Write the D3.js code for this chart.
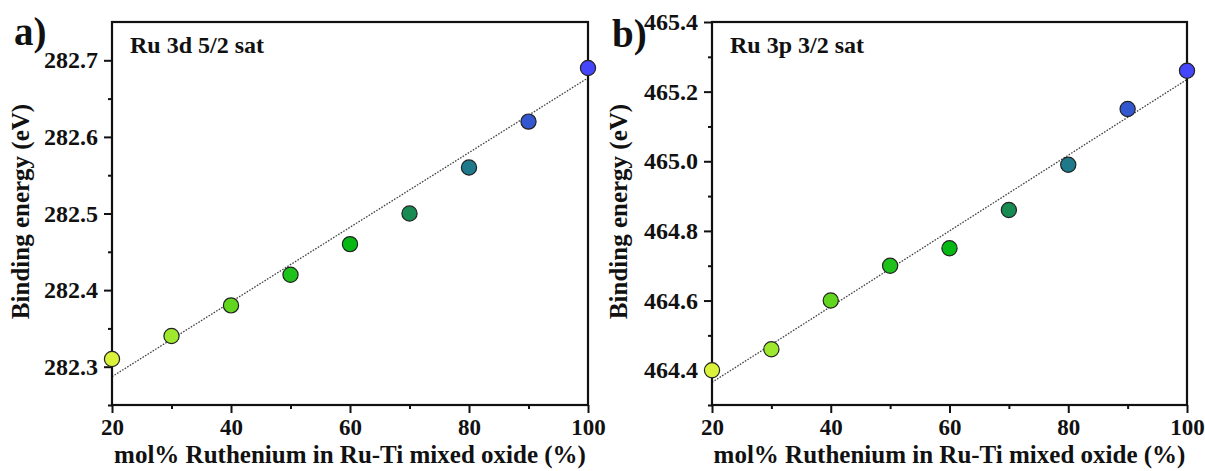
<!DOCTYPE html>
<html>
<head>
<meta charset="utf-8">
<script src="https://cdn.jsdelivr.net/npm/d3@7"></script>
<style>
  body { margin: 0; background: #fff; }
  svg { display: block; }
  text { font-family: "Liberation Serif", "Times New Roman", serif; font-weight: bold; fill: #111; }
</style>
</head>
<body>
<svg id="chart" width="1205" height="471"></svg>
<script>
// mol% Ru in the Ru-Ti mixed oxide
const molPercent = [20, 30, 40, 50, 60, 70, 80, 90, 100];

// binding energies (eV)
const ru3dSat = [282.31, 282.34, 282.38, 282.42, 282.46, 282.50, 282.56, 282.62, 282.69];
const ru3pSat = [464.40, 464.46, 464.60, 464.70, 464.75, 464.86, 464.99, 465.15, 465.26];

// dotted linear fit, value at x = 20 and x = 100
const fitRu3d = [282.287, 282.677];
const fitRu3p = [464.365, 465.235];

// one colour per composition, yellow -> green -> blue
const pointColors = ['#dbf23a', '#9ee82e', '#62d51e', '#1fc21a', '#06b814', '#178b52', '#1e798a', '#3357cf', '#4545fb'];

const xTicks = [20, 40, 60, 80, 100];
const yTicksA = [282.3, 282.4, 282.5, 282.6, 282.7];
const yTicksB = [464.4, 464.6, 464.8, 465.0, 465.2, 465.4];

const svg = d3.select('#chart');

// draws one Origin-style panel
function drawPanel(opts) {
  const { left, top, width, height, yDomain, yTicks, yMinor, yFormat, values, fit, tag, title } = opts;

  const g = svg.append('g').attr('transform', `translate(${left},${top})`);

  const x = d3.scaleLinear().domain([20, 100]).range([0, width]);
  const y = d3.scaleLinear().domain(yDomain).range([height, 0]);

  // fit line
  g.append('line')
    .attr('x1', x(20)).attr('y1', y(fit[0]))
    .attr('x2', x(100)).attr('y2', y(fit[1]))
    .attr('stroke', '#444')
    .attr('stroke-width', 1.3)
    .attr('stroke-dasharray', '1.6,1.4');

  // minor ticks first so majors draw over
  g.append('g')
    .attr('transform', `translate(0,${height})`)
    .call(d3.axisBottom(x).tickValues([30, 50, 70, 90]).tickSize(4).tickFormat(''))
    .call((a) => a.select('.domain').remove());
  g.append('g')
    .call(d3.axisLeft(y).tickValues(yMinor).tickSize(4).tickFormat(''))
    .call((a) => a.select('.domain').remove());

  const xAxis = g.append('g')
    .attr('transform', `translate(0,${height})`)
    .call(d3.axisBottom(x).tickValues(xTicks).tickSize(8).tickSizeOuter(0).tickPadding(6));
  const yAxis = g.append('g')
    .call(d3.axisLeft(y).tickValues(yTicks).tickSize(8).tickSizeOuter(0).tickPadding(6).tickFormat(yFormat));

  xAxis.selectAll('text').style('font-size', '23px').attr('fill', '#111');
  yAxis.selectAll('text').style('font-size', '24px').attr('fill', '#111');
  g.selectAll('.tick line').attr('stroke', '#111').attr('stroke-width', 2);
  g.selectAll('.domain').remove();

  // frame
  g.append('rect')
    .attr('width', width)
    .attr('height', height)
    .attr('fill', 'none')
    .attr('stroke', '#111')
    .attr('stroke-width', 2.2);

  // points
  g.selectAll('circle.pt')
    .data(molPercent.map((m, i) => ({ m, v: values[i], c: pointColors[i] })))
    .join('circle')
    .attr('class', 'pt')
    .attr('cx', (d) => x(d.m))
    .attr('cy', (d) => y(d.v))
    .attr('r', 7.6)
    .attr('fill', (d) => d.c)
    .attr('stroke', '#222')
    .attr('stroke-width', 1.2);

  // titles
  g.append('text')
    .attr('x', width / 2)
    .attr('y', height + 58)
    .attr('text-anchor', 'middle')
    .style('font-size', '25px')
    .text('mol% Ruthenium in Ru-Ti mixed oxide (%)');

  g.append('text')
    .attr('transform', `translate(${opts.yTitleX},${height / 2 - 2}) rotate(-90)`)
    .attr('text-anchor', 'middle')
    .style('font-size', '25px')
    .text('Binding energy (eV)');

  g.append('text')
    .attr('x', 18)
    .attr('y', 31)
    .style('font-size', '24px')
    .text(title);

  g.append('text')
    .attr('x', tag.x)
    .attr('y', tag.y)
    .style('font-size', '39px')
    .text(tag.text);
}

drawPanel({
  left: 112, top: 22, width: 476, height: 383,
  yDomain: [282.25, 282.75],
  yTicks: yTicksA,
  yMinor: [282.25, 282.35, 282.45, 282.55, 282.65],
  yFormat: d3.format('.1f'),
  values: ru3dSat,
  fit: fitRu3d,
  tag: { text: 'a)', x: -98, y: 23 },
  yTitleX: -83,
  title: 'Ru 3d 5/2 sat',
});

drawPanel({
  left: 712, top: 22, width: 475, height: 383,
  yDomain: [464.3, 465.4],
  yTicks: yTicksB,
  yMinor: [464.3, 464.5, 464.7, 464.9, 465.1, 465.3],
  yFormat: d3.format('.1f'),
  values: ru3pSat,
  fit: fitRu3p,
  tag: { text: 'b)', x: -100, y: 25 },
  yTitleX: -85,
  title: 'Ru 3p 3/2 sat',
});
</script>
</body>
</html>
